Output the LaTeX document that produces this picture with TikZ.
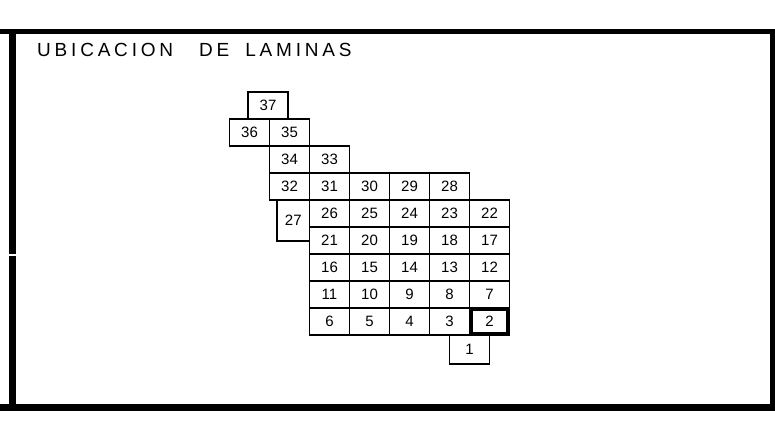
\documentclass[tikz,border=0pt]{standalone}
\usepackage{fontspec}
\setmainfont{Liberation Sans}
\begin{document}
\begin{tikzpicture}[x=1pt,y=-1pt,
  cell/.style={draw=black,line width=1.1pt,rectangle,minimum width=40pt,minimum height=27pt,inner sep=0pt,font=\fontsize{15}{15}\selectfont},
  framebar/.style={line width=#1,black},
  titletext/.style={anchor=base west,inner sep=0pt,font=\fontsize{19}{19}\selectfont\addfontfeature{LetterSpace=20}}
]
\useasboundingbox[fill=white] (0,0) rectangle (775,424);
% frame
\draw[framebar=5pt] (0,31) -- (775,31);
\draw[framebar=7pt] (0,407.5) -- (775,407.5);
\draw[framebar=7pt] (12.5,31) -- (12.5,407.5);
\draw[framebar=5pt] (772.5,31) -- (772.5,407.5);
\draw[white,line width=1.2pt] (8,255) -- (17,255);
% title
\node[titletext] (title) at (37,56.7) {UBICACION\hspace*{26pt}DE\hspace*{16pt}LAMINAS};
% cells
\node[cell] (c37) at (268,105.5) {37};
\node[cell] (c36) at (249.5,132.5) {36};
\node[cell] (c35) at (289.5,132.5) {35};
\node[cell] (c34) at (289.5,159.5) {34};
\node[cell] (c33) at (329.5,159.5) {33};
\node[cell] (c32) at (289.5,186.5) {32};
\node[cell] (c31) at (329.5,186.5) {31};
\node[cell] (c30) at (369.5,186.5) {30};
\node[cell] (c29) at (409.5,186.5) {29};
\node[cell] (c28) at (449.5,186.5) {28};
\node[cell,minimum width=32.5pt,minimum height=41pt] (c27) at (293.25,220.5) {27};
\node[cell] (c26) at (329.5,213.5) {26};
\node[cell] (c25) at (369.5,213.5) {25};
\node[cell] (c24) at (409.5,213.5) {24};
\node[cell] (c23) at (449.5,213.5) {23};
\node[cell] (c22) at (489.5,213.5) {22};
\node[cell] (c21) at (329.5,240.5) {21};
\node[cell] (c20) at (369.5,240.5) {20};
\node[cell] (c19) at (409.5,240.5) {19};
\node[cell] (c18) at (449.5,240.5) {18};
\node[cell] (c17) at (489.5,240.5) {17};
\node[cell] (c16) at (329.5,267.5) {16};
\node[cell] (c15) at (369.5,267.5) {15};
\node[cell] (c14) at (409.5,267.5) {14};
\node[cell] (c13) at (449.5,267.5) {13};
\node[cell] (c12) at (489.5,267.5) {12};
\node[cell] (c11) at (329.5,294.5) {11};
\node[cell] (c10) at (369.5,294.5) {10};
\node[cell] (c9) at (409.5,294.5) {9};
\node[cell] (c8) at (449.5,294.5) {8};
\node[cell] (c7) at (489.5,294.5) {7};
\node[cell] (c6) at (329.5,321.5) {6};
\node[cell] (c5) at (369.5,321.5) {5};
\node[cell] (c4) at (409.5,321.5) {4};
\node[cell] (c3) at (449.5,321.5) {3};
\node[cell] (c2) at (489.5,321.5) {2};
\node[cell,minimum height=29pt] (c1) at (469.5,349.5) {1};
\draw[line width=4pt] ([shift={(2,2)}]c2.north west) rectangle ([shift={(-2,-2)}]c2.south east);
\end{tikzpicture}
\end{document}
